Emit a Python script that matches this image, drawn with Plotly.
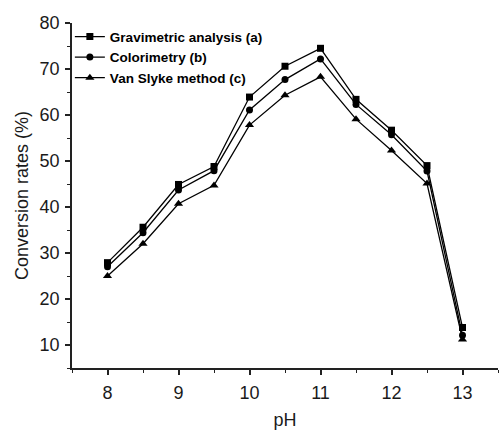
import plotly.graph_objects as go

ph = [8, 8.5, 9, 9.5, 10, 10.5, 11, 11.5, 12, 12.5, 13]
gravimetric = [27.9, 35.6, 44.9, 48.8, 63.9, 70.6, 74.5, 63.4, 56.7, 49.0, 13.8]
colorimetry = [27.0, 34.4, 43.7, 47.9, 61.1, 67.7, 72.2, 62.3, 55.7, 47.8, 12.1]
van_slyke = [25.0, 32.0, 40.7, 44.7, 57.8, 64.3, 68.3, 59.1, 52.3, 45.1, 11.2]

names = ["Gravimetric analysis (a)", "Colorimetry (b)", "Van Slyke method (c)"]
series = [gravimetric, colorimetry, van_slyke]
symbols = ["square", "circle", "triangle-up"]
sizes = [7, 7, 8]

fig = go.Figure()
for n, s, sym, sz in zip(names, series, symbols, sizes):
    fig.add_trace(go.Scatter(
        x=ph, y=s, name="<b>" + n + "</b>", mode="lines+markers",
        line=dict(color="black", width=1.3),
        marker=dict(symbol=sym, size=sz, color="black"),
    ))

axis_font = dict(family="Liberation Sans, Arial", size=18, color="#1a1a1a")
fig.update_layout(
    width=499, height=430,
    margin=dict(l=72, r=1, t=23, b=62),
    plot_bgcolor="white", paper_bgcolor="white",
    showlegend=True,
    legend=dict(x=-0.005, y=1.005, xanchor="left", yanchor="top",
                font=dict(family="Liberation Sans, Arial", size=13.5, color="black"),
                bgcolor="rgba(0,0,0,0)", tracegroupgap=0, itemwidth=30),
    xaxis=dict(
        range=[7.5, 13.5], tickvals=[8, 9, 10, 11, 12, 13],
        showline=True, linecolor="#222", linewidth=1.5,
        ticks="outside", ticklen=5, tickwidth=1.5, tickcolor="#222",
        minor=dict(tickvals=[7.5, 8.5, 9.5, 10.5, 11.5, 12.5, 13.5], ticks="outside", ticklen=3.5, tickwidth=1.2, tickcolor="#222"),
        showgrid=False, zeroline=False, automargin=False,
        tickfont=axis_font, ticklabelstandoff=3,
        title=dict(text="pH", font=axis_font, standoff=26),
    ),
    yaxis=dict(
        range=[5, 80], tickvals=[10, 20, 30, 40, 50, 60, 70, 80],
        showline=True, linecolor="#222", linewidth=1.5,
        ticks="outside", ticklen=5, tickwidth=1.5, tickcolor="#222",
        minor=dict(tickvals=[5, 15, 25, 35, 45, 55, 65, 75], ticks="outside", ticklen=3.5, tickwidth=1.2, tickcolor="#222"),
        showgrid=False, zeroline=False, automargin=False,
        tickfont=axis_font, ticklabelstandoff=2,
        title=dict(text="Conversion rates (%)", font=axis_font, standoff=6),
    ),
)

fig.write_html("out.html")
